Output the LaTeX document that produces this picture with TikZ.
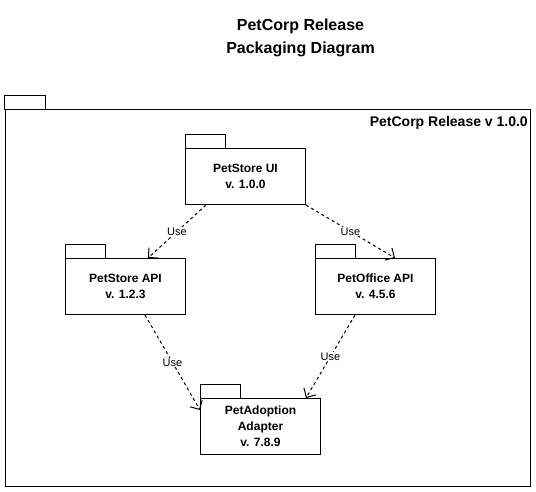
\documentclass[tikz,border=0pt]{standalone}
\usepackage{fontspec}
\setmainfont{Liberation Sans}
\usetikzlibrary{arrows.meta, positioning}

\tikzset{
    pkg/.style={draw, line width=1pt, minimum width=120pt, minimum height=56pt, align=center,
        font=\fontsize{12}{16}\selectfont\bfseries},
    use/.style={line width=1pt, dash pattern=on 3pt off 3pt, -{Straight Barb[length=7pt, width=14pt]}},
    uselabel/.style={fill=white, inner sep=1pt, font=\fontsize{11}{13}\selectfont}
}

\begin{document}
\begin{tikzpicture}[x=1pt, y=-1pt]
    \useasboundingbox (-0.5,-0.5) rectangle (535.5,490.5);

    % Title
    \node[align=center, font=\fontsize{16}{23}\selectfont\bfseries] (title) at (300,37)
        {PetCorp Release\\Packaging Diagram};

    % Outer package
    \node[draw, line width=1pt, minimum width=525pt, minimum height=377pt] (release) at (267.5,297.5) {};
    \node[anchor=north east, inner sep=1pt, font=\fontsize{14}{16}\selectfont\bfseries] (releaselabel)
        at ([xshift=-2pt, yshift=-6pt]release.north east) {PetCorp Release v 1.0.0};

    % Packages
    \node[pkg] (ui) at (245,176) {PetStore UI\\v. 1.0.0};
    \node[pkg] (api) at (125,286) {PetStore API\\v. 1.2.3};
    \node[pkg] (office) at (375,286) {PetOffice API\\v. 4.5.6};
    \node[pkg] (adapter) at (260,426) {PetAdoption\\Adapter\\v. 7.8.9};

    % Tabs
    \foreach \p in {release, ui, api, office, adapter} {
        \draw[line width=1pt] (\p.north west) rectangle +(40,-14);
    }

    % Dependencies
    \draw[use] ([xshift=21pt]ui.south west) -- node[uselabel] {Use} ([xshift=-38pt]api.north east);
    \draw[use] (ui.south east) -- node[uselabel] {Use} ([xshift=80pt]office.north west);
    \draw[use] ([xshift=80pt]api.south west) -- node[uselabel] {Use} ([yshift=-12pt]adapter.north west);
    \draw[use] ([xshift=-81pt]office.south east) -- node[uselabel] {Use} ([xshift=-15pt]adapter.north east);

\end{tikzpicture}
\end{document}
